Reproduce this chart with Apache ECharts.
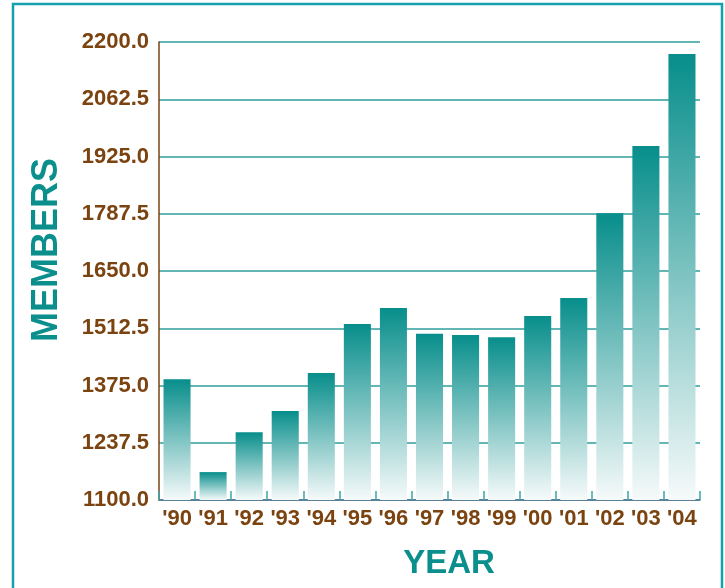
<!DOCTYPE html>
<html>
<head>
    <meta charset="UTF-8">
    <style>
        html, body { margin: 0; padding: 0; background: #fff; }
        #container { width: 725px; height: 588px; }
    </style>
</head>
<body>
<div id="container"></div>

<script src="https://cdn.jsdelivr.net/npm/echarts@6/dist/echarts.min.js"></script>
<script type="text/javascript">
    // data
    var years = ["'90", "'91", "'92", "'93", "'94", "'95", "'96", "'97", "'98", "'99", "'00", "'01", "'02", "'03", "'04"];
    var members = [1390, 1167, 1263, 1314, 1405, 1523, 1561, 1499, 1496, 1491, 1542, 1585, 1789, 1950, 2171];

    var brown = '#7a4310';
    var teal = '#0a8f8c';
    var labelFont = '"Liberation Sans", Arial, sans-serif';

    var dom = document.getElementById('container');
    var myChart = echarts.init(dom, null, { renderer: 'canvas' });

    var option = {
        animation: false,
        grid: { left: 159, right: 25, top: 42, bottom: 88 },
        xAxis: {
            type: 'category',
            data: years,
            axisLine: { lineStyle: { color: '#5a7090', width: 1.5 } },
            axisTick: { show: true, inside: true, length: 9, lineStyle: { color: '#3aa8a8', width: 1.5 } },
            axisLabel: {
                interval: 0,
                color: brown,
                fontFamily: labelFont,
                fontWeight: 'bold',
                fontSize: 22,
                margin: 8
            }
        },
        yAxis: {
            type: 'value',
            min: 1100,
            max: 2200,
            interval: 137.5,
            axisLine: { show: true, lineStyle: { color: brown, width: 1.5 } },
            axisTick: { show: false },
            splitLine: { lineStyle: { color: '#2f9e9e', width: 1.5 } },
            axisLabel: {
                color: brown,
                fontFamily: labelFont,
                fontWeight: 'bold',
                fontSize: 22,
                margin: 10,
                formatter: function (v) { return v.toFixed(1); }
            }
        },
        series: [{
            type: 'bar',
            data: members,
            barWidth: '75%',
            itemStyle: {
                color: new echarts.graphic.LinearGradient(0, 0, 0, 1, [
                    { offset: 0, color: '#078e8b' },
                    { offset: 1, color: '#f6fafa' }
                ])
            }
        }],
        graphic: [
            {
                type: 'rect',
                shape: { x: 13, y: 4, width: 709, height: 600 },
                style: { fill: null, stroke: '#14a0ac', lineWidth: 2.5 },
                z: -1
            },
            {
                type: 'text',
                x: 47,
                y: 250,
                rotation: Math.PI / 2,
                style: {
                    text: 'MEMBERS',
                    fill: teal,
                    font: 'bold 36px "Liberation Sans", Arial, sans-serif',
                    align: 'center',
                    verticalAlign: 'middle'
                }
            },
            {
                type: 'text',
                x: 449,
                y: 564,
                style: {
                    text: 'YEAR',
                    fill: teal,
                    font: 'bold 33px "Liberation Sans", Arial, sans-serif',
                    align: 'center',
                    verticalAlign: 'middle'
                }
            }
        ]
    };

    myChart.setOption(option);
    window.addEventListener('resize', myChart.resize);
</script>
</body>
</html>
